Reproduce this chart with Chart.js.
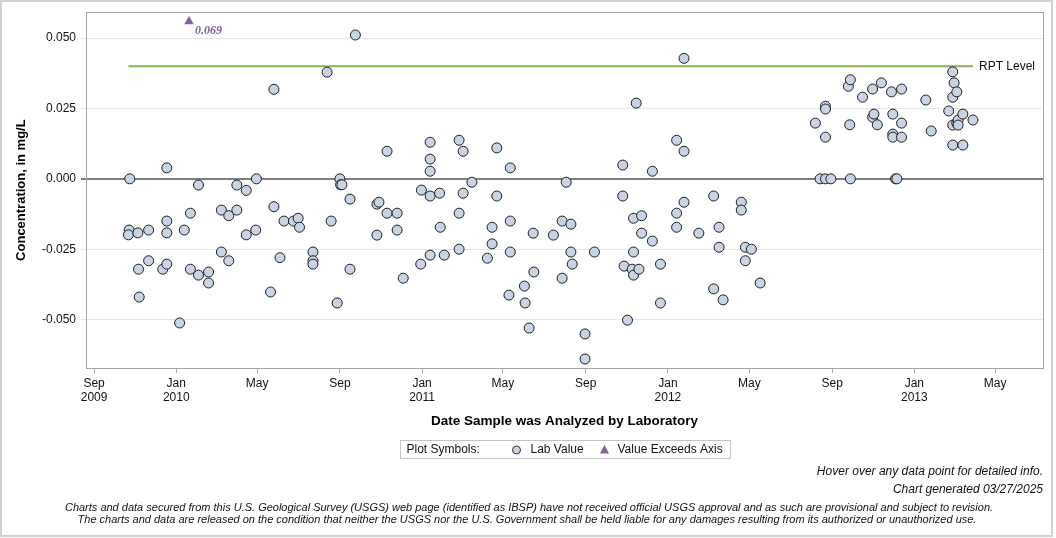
<!DOCTYPE html>
<html>
<head>
<meta charset="utf-8">
<title>IBSP lab value chart</title>
<script src="https://cdn.jsdelivr.net/npm/chart.js@4.4.1/dist/chart.umd.min.js"></script>
<style>
    html, body { margin: 0; padding: 0; background: #fff; }
    #wrap { width: 1056px; height: 538px; }
</style>
</head>
<body>
<div id="wrap"><canvas id="conc-chart" width="1056" height="538"></canvas></div>
<script>
// Lab values (mg/L) by analysis date
const sampleDates = [
    '2009-10-24', '2009-10-23', '2009-10-22', '2009-11-05', '2009-11-06', '2009-11-07', '2009-11-21', '2009-11-21',
    '2009-12-12', '2009-12-18', '2009-12-18', '2009-12-18', '2009-12-18', '2010-01-06', '2010-01-13', '2010-01-22',
    '2010-01-22', '2010-02-03', '2010-02-03', '2010-02-18', '2010-02-18', '2010-03-09', '2010-03-09', '2010-03-20',
    '2010-03-20', '2010-04-01', '2010-04-01', '2010-04-15', '2010-04-15', '2010-04-30', '2010-04-29', '2010-05-21',
    '2010-05-26', '2010-05-26', '2010-06-04', '2010-06-10', '2010-06-24', '2010-07-01', '2010-07-03', '2010-07-23',
    '2010-07-23', '2010-07-23', '2010-08-13', '2010-08-19', '2010-08-28', '2010-09-01', '2010-09-02', '2010-09-04',
    '2010-09-16', '2010-09-16', '2010-09-24', '2010-10-26', '2010-10-29', '2010-10-26', '2010-11-10', '2010-11-10',
    '2010-11-25', '2010-11-25', '2010-12-04', '2010-12-30', '2010-12-31', '2011-01-13', '2011-01-13', '2011-01-13',
    '2011-01-13', '2011-01-13', '2011-01-27', '2011-01-28', '2011-02-03', '2011-02-25', '2011-02-25', '2011-02-25',
    '2011-03-03', '2011-03-03', '2011-03-16', '2011-04-08', '2011-04-15', '2011-04-15', '2011-04-22', '2011-04-22',
    '2011-05-10', '2011-05-12', '2011-05-12', '2011-05-12', '2011-06-02', '2011-06-03', '2011-06-09', '2011-06-15',
    '2011-06-16', '2011-07-15', '2011-07-28', '2011-07-28', '2011-08-03', '2011-08-10', '2011-08-10', '2011-08-12',
    '2011-08-31', '2011-08-31', '2011-09-14', '2011-10-26', '2011-10-26', '2011-10-28', '2011-11-02', '2011-11-09',
    '2011-11-11', '2011-11-11', '2011-11-11', '2011-11-15', '2011-11-19', '2011-11-23', '2011-11-23', '2011-12-09',
    '2011-12-09', '2011-12-21', '2011-12-21', '2012-01-14', '2012-01-14', '2012-01-14', '2012-01-25', '2012-01-25',
    '2012-01-25', '2012-02-16', '2012-03-09', '2012-03-09', '2012-03-17', '2012-03-17', '2012-03-23', '2012-04-19',
    '2012-04-19', '2012-04-25', '2012-04-25', '2012-05-04', '2012-05-17', '2012-08-07', '2012-08-14', '2012-08-22',
    '2012-08-30', '2012-08-22', '2012-08-22', '2012-08-22', '2012-09-25', '2012-09-28', '2012-09-27', '2012-09-28',
    '2012-10-16', '2012-10-31', '2012-10-31', '2012-11-02', '2012-11-07', '2012-11-13', '2012-11-28', '2012-11-30',
    '2012-11-30', '2012-11-30', '2012-12-04', '2012-12-06', '2012-12-13', '2012-12-13', '2012-12-13', '2013-01-18',
    '2013-01-26', '2013-02-21', '2013-02-27', '2013-03-01', '2013-02-27', '2013-02-27', '2013-02-27', '2013-03-05',
    '2013-03-05', '2013-03-07', '2013-03-07', '2013-03-14', '2013-03-14', '2013-03-29'
];
const labValues = [
    0.0, -0.0182, -0.0199, -0.0192, -0.0321, -0.0420, -0.0182, -0.0291,
    -0.0321, -0.0303, -0.0192, -0.0150, 0.0039, -0.0512, -0.0182, -0.0122,
    -0.0321, -0.0022, -0.0342, -0.0331, -0.0370, -0.0111, -0.0260, -0.0131,
    -0.0291, -0.0022, -0.0111, -0.0041, -0.0199, 0.0, -0.0182, -0.0402,
    0.0318, -0.0099, -0.0280, -0.0150, -0.0150, -0.0140, -0.0172, -0.0260,
    -0.0291, -0.0303, 0.0379, -0.0150, -0.0441, 0.0, -0.0021, -0.0021,
    -0.0072, -0.0321, 0.0511, -0.0090, -0.0083, -0.0200, 0.0098, -0.0122,
    -0.0122, -0.0182, -0.0353, -0.0303, -0.0040, 0.0130, 0.0070, 0.0027,
    -0.0061, -0.0271, -0.0051, -0.0172, -0.0271, 0.0137, -0.0122, -0.0250,
    0.0098, -0.0051, -0.0012, -0.0282, -0.0172, -0.0231, 0.0110, -0.0061,
    -0.0413, 0.0039, -0.0150, -0.0260, -0.0381, -0.0441, -0.0530, -0.0193,
    -0.0331, -0.0200, -0.0150, -0.0353, -0.0012, -0.0161, -0.0260, -0.0303,
    -0.0551, -0.0640, -0.0260, 0.0049, -0.0061, -0.0310, -0.0502, -0.0321,
    -0.0140, -0.0260, -0.0342, 0.0269, -0.0321, -0.0131, -0.0193, 0.0027,
    -0.0221, -0.0303, -0.0441, 0.0137, -0.0122, -0.0172, 0.0428, 0.0098,
    -0.0083, -0.0193, -0.0061, -0.0391, -0.0172, -0.0243, -0.0430, -0.0083,
    -0.0111, -0.0243, -0.0291, -0.0250, -0.0370, 0.0198, 0.0, 0.0,
    0.0, 0.0258, 0.0248, 0.0148, 0.0329, 0.0352, 0.0192, 0.0,
    0.0290, 0.0319, 0.0219, 0.0230, 0.0192, 0.0341, 0.0309, 0.0230,
    0.0159, 0.0148, 0.0, 0.0, 0.0319, 0.0198, 0.0148, 0.0280,
    0.0170, 0.0241, 0.0380, 0.0341, 0.0290, 0.0191, 0.0120, 0.0309,
    0.0198, 0.0209, 0.0191, 0.0230, 0.0120, 0.0209
];

// Values above the top of the axis
const exceedDates = ['2010-01-20'];
const exceedValues = [0.069];

const rptLevel = 0.040;

const xTickDates = ['2009-09-01', '2010-01-01', '2010-05-01', '2010-09-01', '2011-01-01', '2011-05-01',
    '2011-09-01', '2012-01-01', '2012-05-01', '2012-09-01', '2013-01-01', '2013-05-01'];
const xTickLabels = [['Sep', '2009'], ['Jan', '2010'], ['May'], ['Sep'], ['Jan', '2011'], ['May'],
    ['Sep'], ['Jan', '2012'], ['May'], ['Sep'], ['Jan', '2013'], ['May']];
const xRange = ['2009-08-20', '2013-07-11'];

const yTicks = [-0.050, -0.025, 0.000, 0.025, 0.050];
const yMin = -0.0672;
const yMax = 0.0592;

const FONT = "'Liberation Sans', Arial, Helvetica, sans-serif";
const POINT_FILL = 'rgb(200, 211, 227)';
const POINT_EDGE = '#1e1e1e';
const EXCEED_COLOR = 'rgb(128, 100, 162)';
const RPT_COLOR = 'rgb(141, 176, 82)';

function toDay(s) {
    const p = s.split('-').map(Number);
    return Date.UTC(p[0], p[1] - 1, p[2]) / 86400000;
}

function dayLabel(d) {
    return new Date(d * 86400000).toISOString().slice(0, 10);
}

const labPoints = sampleDates.map((d, i) => ({ x: toDay(d), y: labValues[i] }));
const exceedPoints = exceedDates.map((d, i) => ({
    x: toDay(d),
    y: Math.min(exceedValues[i], yMax - 0.0033),
    actual: exceedValues[i]
}));
const sampleDays = labPoints.map(p => p.x);
const rptPoints = [
    { x: Math.min(...sampleDays), y: rptLevel },
    { x: Math.max(...sampleDays), y: rptLevel }
];
const xTickDays = xTickDates.map(toDay);

Chart.defaults.font.family = FONT;
Chart.defaults.color = '#111';

// Frame, annotations, legend and footer notes
const decorations = {
    id: 'decorations',
    beforeDatasetsDraw(chart) {
        const { ctx, chartArea: a } = chart;
        ctx.save();
        ctx.strokeStyle = '#a4a4a4';
        ctx.lineWidth = 1;
        ctx.strokeRect(Math.round(a.left) + 0.5, Math.round(a.top) + 0.5,
            Math.round(a.right - a.left), Math.round(a.bottom - a.top));
        ctx.restore();
    },
    afterDraw(chart) {
        const { ctx, chartArea: a } = chart;
        ctx.save();

        // RPT label at the end of its line
        const rptMeta = chart.getDatasetMeta(0);
        const rptEnd = rptMeta.data[rptMeta.data.length - 1];
        ctx.font = '12px ' + FONT;
        ctx.fillStyle = '#111';
        ctx.textAlign = 'left';
        ctx.textBaseline = 'middle';
        ctx.fillText('RPT Level', rptEnd.x + 6, rptEnd.y);

        // Off-scale value labels
        const exMeta = chart.getDatasetMeta(2);
        ctx.font = "italic bold 12px 'Liberation Serif', 'Times New Roman', serif";
        ctx.fillStyle = 'rgb(123, 94, 167)';
        exMeta.data.forEach((el, i) => {
            ctx.fillText(exceedValues[i].toFixed(3), el.x + 6, el.y + 9);
        });

        // Legend box
        const cx = (a.left + a.right) / 2;
        const boxW = 330;
        const left = Math.round(cx - boxW / 2) + 0.5;
        const ly = 450;
        ctx.strokeStyle = '#c4c4c4';
        ctx.lineWidth = 1;
        ctx.strokeRect(left, 440.5, boxW, 18);
        ctx.font = '12px ' + FONT;
        ctx.fillStyle = '#111';
        ctx.fillText('Plot Symbols:', left + 6, ly);
        ctx.beginPath();
        ctx.arc(left + 116, ly, 4, 0, Math.PI * 2);
        ctx.fillStyle = POINT_FILL;
        ctx.fill();
        ctx.strokeStyle = '#333';
        ctx.stroke();
        ctx.fillStyle = '#111';
        ctx.fillText('Lab Value', left + 130, ly);
        ctx.beginPath();
        ctx.moveTo(left + 204, ly - 5);
        ctx.lineTo(left + 208.5, ly + 3.5);
        ctx.lineTo(left + 199.5, ly + 3.5);
        ctx.closePath();
        ctx.fillStyle = EXCEED_COLOR;
        ctx.fill();
        ctx.fillStyle = '#111';
        ctx.fillText('Value Exceeds Axis', left + 217, ly);

        // Footer notes
        ctx.font = 'italic 12px ' + FONT;
        ctx.textAlign = 'right';
        ctx.fillText('Hover over any data point for detailed info.', a.right, 472);
        ctx.fillText('Chart generated 03/27/2025', a.right, 490);
        ctx.font = 'italic 11px ' + FONT;
        ctx.textAlign = 'center';
        ctx.fillText('Charts and data secured from this U.S. Geological Survey (USGS) web page (identified as IBSP) have not received official USGS approval and as such are provisional and subject to revision.', 529, 508);
        ctx.fillText('The charts and data are released on the condition that neither the USGS nor the U.S. Government shall be held liable for any damages resulting from its authorized or unauthorized use.', 527, 520);

        // Outer border of the image
        ctx.strokeStyle = '#d2d2d2';
        ctx.lineWidth = 2;
        ctx.strokeRect(1, 1, 1051, 535);
        ctx.restore();
    }
};

document.addEventListener('DOMContentLoaded', function() {
    const ctx = document.getElementById('conc-chart');

    new Chart(ctx, {
        type: 'scatter',
        data: {
            datasets: [
                {
                    type: 'line',
                    label: 'RPT Level',
                    data: rptPoints,
                    borderColor: RPT_COLOR,
                    borderWidth: 2,
                    pointRadius: 0,
                    pointHoverRadius: 0,
                    order: 3
                },
                {
                    label: 'Lab Value',
                    data: labPoints,
                    backgroundColor: POINT_FILL,
                    borderColor: POINT_EDGE,
                    borderWidth: 1,
                    pointRadius: 5,
                    pointHoverRadius: 6,
                    order: 2
                },
                {
                    label: 'Value Exceeds Axis',
                    data: exceedPoints,
                    pointStyle: 'triangle',
                    backgroundColor: EXCEED_COLOR,
                    borderColor: EXCEED_COLOR,
                    borderWidth: 0,
                    pointRadius: 5.5,
                    pointHoverRadius: 6.5,
                    order: 1
                }
            ]
        },
        options: {
            responsive: false,
            animation: false,
            layout: {
                padding: { top: 12, right: 13, bottom: 108, left: 0 }
            },
            plugins: {
                legend: { display: false },
                tooltip: {
                    filter: item => item.datasetIndex !== 0,
                    callbacks: {
                        title: items => dayLabel(items[0].parsed.x),
                        label: function(context) {
                            const v = context.raw.actual !== undefined ? context.raw.actual : context.parsed.y;
                            return context.dataset.label + ': ' + v.toFixed(4) + ' mg/L';
                        }
                    }
                }
            },
            scales: {
                x: {
                    type: 'linear',
                    min: toDay(xRange[0]),
                    max: toDay(xRange[1]),
                    afterBuildTicks: function(scale) {
                        scale.ticks = xTickDays.map(v => ({ value: v }));
                    },
                    afterFit: function(scale) {
                        scale.height = 62;
                    },
                    border: { display: false },
                    grid: {
                        drawOnChartArea: false,
                        drawTicks: true,
                        tickLength: 5,
                        color: '#a8a8a8'
                    },
                    ticks: {
                        autoSkip: false,
                        maxRotation: 0,
                        padding: 4,
                        color: '#111',
                        font: { size: 12, lineHeight: 1.15 },
                        callback: function(value) {
                            const i = xTickDays.indexOf(value);
                            return i >= 0 ? xTickLabels[i] : '';
                        }
                    },
                    title: {
                        display: true,
                        text: 'Date Sample was Analyzed by Laboratory',
                        color: '#000',
                        font: { size: 13.5, weight: 'bold' },
                        padding: { top: 0, bottom: 1 }
                    }
                },
                y: {
                    type: 'linear',
                    min: yMin,
                    max: yMax,
                    afterBuildTicks: function(scale) {
                        scale.ticks = yTicks.map(v => ({ value: v }));
                    },
                    afterFit: function(scale) {
                        scale.width = 86;
                    },
                    border: { display: false },
                    grid: {
                        tickLength: 5,
                        color: ctx => (ctx.tick && ctx.tick.value === 0) ? '#7f7f7f' : '#e6e6e6',
                        lineWidth: ctx => (ctx.tick && ctx.tick.value === 0) ? 2 : 1
                    },
                    ticks: {
                        padding: 5,
                        color: '#111',
                        font: { size: 12 },
                        callback: value => value.toFixed(3)
                    },
                    title: {
                        display: true,
                        text: 'Concentration, in mg/L',
                        color: '#000',
                        font: { size: 13, weight: 'bold' },
                        padding: { top: 14, bottom: 0 }
                    }
                }
            }
        },
        plugins: [decorations]
    });
});
</script>
</body>
</html>
